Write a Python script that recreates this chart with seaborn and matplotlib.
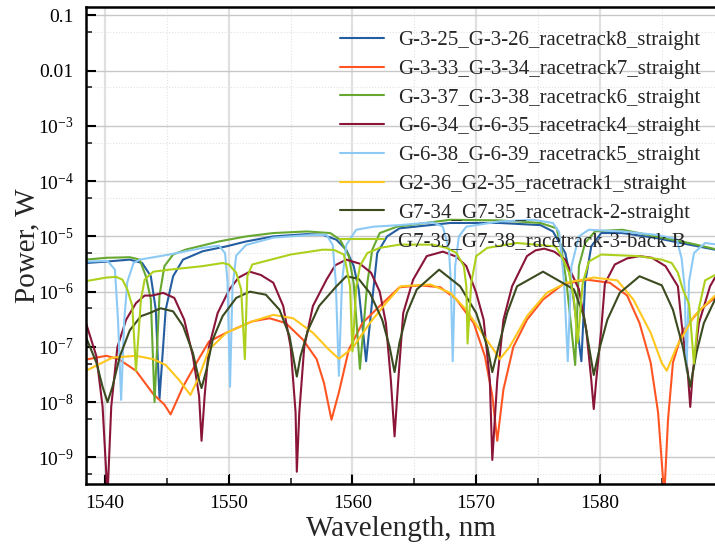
import numpy as np
import pandas as pd
import matplotlib
matplotlib.use("Agg")
import matplotlib.pyplot as plt
import matplotlib.ticker as mticker
import seaborn as sns

# -----------------------------------------------------------------------------
# data (wavelength in nm, power in W)
# -----------------------------------------------------------------------------
labels = ["G-3-25_G-3-26_racetrack8_straight",
          "G-3-33_G-3-34_racetrack7_straight",
          "G-3-37_G-3-38_racetrack6_straight",
          "G-6-34_G-6-35_racetrack4_straight",
          "G-6-38_G-6-39_racetrack5_straight",
          "G2-36_G2-35_racetrack1_straight",
          "G7-34_G7-35_racetrack-2-straight",
          "G7-39_G7-38_racetrack-3-back B"]
colors = ["#245ea0", "#ff5522", "#66a830", "#8a1538",
          "#8ccaf5", "#ffc61e", "#3b4a1f", "#acd01c"]

wl_r8 = [1538.46, 1540.1, 1542.0, 1543.0, 1543.7, 1544.1, 1544.4, 1544.9, 1545.5, 1546.3,
         1547.9, 1549.8, 1551.4, 1553.6, 1556.3, 1557.6, 1558.7, 1559.5, 1560.1, 1560.5,
         1561.1, 1561.6, 1562.0, 1562.8, 1563.8, 1567.9, 1571.9, 1575.2, 1576.2, 1577.2,
         1577.7, 1578.5, 1578.8, 1579.3, 1580.1, 1581.8, 1584.5, 1587.2, 1589.3]
p_r8 = [3.3e-6, 3.5e-6, 3.8e-6, 3.3e-6, 1.9e-6, 4.7e-7, 1.15e-8, 4.7e-7, 1.9e-6, 3.8e-6,
        5.4e-6, 6.6e-6, 8.1e-6, 1.0e-5, 1.1e-5, 1.07e-5, 8.7e-6, 5.7e-6, 2.9e-6, 1.1e-6,
        5.5e-8, 7.2e-7, 5.0e-6, 1.0e-5, 1.4e-5, 1.75e-5, 1.75e-5, 1.6e-5, 1.23e-5, 5.0e-6,
        1.45e-6, 5.5e-8, 1.45e-6, 6.6e-6, 1.15e-5, 1.15e-5, 9.4e-6, 7.1e-6, 5.75e-6]

wl_r7 = [1538.46, 1540.1, 1541.1, 1542.5, 1543.9, 1544.8, 1545.3, 1546.3, 1547.4, 1548.4,
         1550.0, 1551.9, 1553.3, 1554.6, 1556.0, 1557.1, 1557.7, 1558.3, 1558.9, 1559.7,
         1560.8, 1562.2, 1563.8, 1565.5, 1567.1, 1568.4, 1569.8, 1570.7, 1571.3, 1571.7,
         1572.2, 1573.0, 1574.1, 1575.4, 1577.0, 1578.9, 1580.8, 1582.2, 1583.2, 1584.1,
         1584.7, 1585.2, 1585.5, 1585.9, 1586.7, 1588.1, 1589.3]
p_r7 = [5.9e-8, 6.9e-8, 6.0e-8, 3.7e-8, 1.4e-8, 9.0e-9, 6.0e-9, 1.9e-8, 5.2e-8, 1.25e-7,
        1.9e-7, 2.9e-7, 3.3e-7, 2.7e-7, 1.35e-7, 6.0e-8, 2.2e-8, 4.8e-9, 1.5e-8, 8.9e-8,
        2.7e-7, 5.5e-7, 1.2e-6, 1.3e-6, 1.2e-6, 7.2e-7, 2.7e-7, 6.8e-8, 1.3e-8, 2.0e-9,
        1.7e-8, 1.0e-7, 3.1e-7, 7.2e-7, 1.35e-6, 1.65e-6, 1.45e-6, 8.5e-7, 2.7e-7, 5.2e-8,
        6.5e-9, 2.0e-10, 4.7e-9, 5.2e-8, 2.0e-7, 4.7e-7, 7.8e-7]

wl_r6 = [1538.46, 1540.1, 1542.0, 1542.8, 1543.3, 1543.7, 1544.0, 1544.4, 1544.8, 1545.5,
         1546.5, 1549.2, 1551.4, 1553.6, 1556.3, 1558.2, 1559.0, 1559.7, 1560.1, 1560.6,
         1561.2, 1561.6, 1562.2, 1563.6, 1567.9, 1571.9, 1575.2, 1576.5, 1576.9, 1577.3,
         1578.0, 1578.3, 1578.8, 1579.6, 1581.8, 1584.5, 1587.2, 1589.3]
p_r6 = [3.8e-6, 4.1e-6, 4.2e-6, 3.8e-6, 1.9e-6, 7.2e-7, 1.0e-8, 8.5e-7, 2.9e-6, 4.7e-6,
        5.75e-6, 8.1e-6, 1.0e-5, 1.15e-5, 1.23e-5, 1.15e-5, 8.7e-6, 4.4e-6, 1.4e-6, 4.0e-8,
        1.45e-6, 5.75e-6, 1.15e-5, 1.5e-5, 2.0e-5, 1.95e-5, 1.75e-5, 1.4e-5, 5.75e-6, 1.45e-6,
        4.7e-8, 2.9e-6, 7.6e-6, 1.23e-5, 1.32e-5, 1.0e-5, 7.6e-6, 5.9e-6]

wl_r4 = [1538.46, 1539.3, 1539.8, 1540.2, 1540.5, 1541.0, 1541.7, 1542.5, 1543.2, 1543.8,
         1544.7, 1545.6, 1546.4, 1547.1, 1547.6, 1547.8, 1548.05, 1548.4, 1549.1, 1550.05,
         1550.8, 1551.7, 1552.6, 1553.6, 1554.4, 1555.0, 1555.4, 1555.5, 1555.7, 1556.1,
         1556.8, 1557.9, 1558.6, 1559.5, 1560.6, 1561.5, 1562.2, 1562.7, 1563.1, 1563.4,
         1563.7, 1564.1, 1564.9, 1566.0, 1567.3, 1568.4, 1569.2, 1570.0, 1570.6, 1571.1,
         1571.3, 1571.7, 1572.2, 1572.9, 1574.1, 1574.8, 1575.5, 1576.3, 1577.2, 1578.3,
         1578.9, 1579.3, 1579.5, 1579.7, 1580.1, 1580.4, 1581.2, 1582.2, 1583.2, 1584.2,
         1585.3, 1586.3, 1586.6, 1587.1, 1587.3, 1587.5, 1588.0, 1588.9, 1589.3]
p_r4 = [2.7e-7, 6.8e-8, 8.3e-9, 2.0e-10, 8.3e-9, 1.0e-7, 3.1e-7, 6.2e-7, 8.5e-7, 8.5e-7,
        9.5e-7, 7.7e-7, 3.1e-7, 6.8e-8, 1.3e-8, 2.0e-9, 1.3e-8, 1.0e-7, 4.1e-7, 1.1e-6,
        1.8e-6, 2.3e-6, 2.0e-6, 1.45e-6, 5.5e-7, 1.0e-7, 6.5e-9, 5.5e-10, 6.5e-9, 1.0e-7,
        5.5e-7, 1.65e-6, 3.0e-6, 3.8e-6, 3.2e-6, 2.2e-6, 1.0e-6, 2.7e-7, 2.5e-8, 2.4e-9,
        2.5e-8, 4.1e-7, 1.65e-6, 4.4e-6, 5.3e-6, 4.3e-6, 2.9e-6, 9.5e-7, 3.1e-7, 2.5e-8,
        9.0e-10, 2.5e-8, 3.1e-7, 1.25e-6, 4.4e-6, 5.6e-6, 6.0e-6, 5.3e-6, 3.8e-6, 1.1e-6,
        2.0e-7, 2.5e-8, 7.5e-9, 2.5e-8, 2.0e-7, 1.4e-6, 3.1e-6, 4.0e-6, 4.4e-6, 4.1e-6,
        2.9e-6, 1.25e-6, 2.7e-7, 3.4e-8, 8.2e-9, 3.4e-8, 2.7e-7, 1.25e-6, 1.8e-6]

wl_r5 = [1538.46, 1540.2, 1540.8, 1541.05, 1541.3, 1541.55, 1541.8, 1542.3, 1542.8, 1545.2,
         1547.9, 1549.2, 1549.7, 1549.9, 1550.1, 1550.3, 1550.6, 1551.4, 1553.6, 1556.3,
         1557.9, 1558.4, 1558.65, 1558.9, 1559.15, 1559.5, 1560.3, 1561.7, 1563.8, 1566.5,
         1567.3, 1567.8, 1567.95, 1568.1, 1568.3, 1568.6, 1569.2, 1571.9, 1574.6, 1576.2,
         1576.7, 1577.1, 1577.4, 1577.7, 1578.3, 1579.1, 1581.8, 1584.5, 1586.2, 1586.6,
         1586.85, 1587.0, 1587.2, 1587.6, 1588.5, 1589.3]
p_r5 = [3.5e-6, 3.6e-6, 2.5e-6, 3.0e-7, 1.1e-8, 3.0e-7, 1.5e-6, 3.3e-6, 3.8e-6, 4.7e-6,
        6.2e-6, 6.8e-6, 5.0e-6, 1.5e-6, 1.9e-8, 1.2e-6, 4.5e-6, 7.0e-6, 9.5e-6, 1.05e-5,
        1.07e-5, 7.0e-6, 1.5e-6, 3.0e-8, 1.5e-6, 7.0e-6, 1.32e-5, 1.5e-5, 1.6e-5, 1.8e-5,
        1.5e-5, 5.75e-6, 1.45e-6, 5.5e-8, 2.9e-6, 1.0e-5, 1.5e-5, 1.87e-5, 2.0e-5, 1.75e-5,
        1.2e-5, 1.5e-6, 5.5e-8, 2.9e-6, 1.0e-5, 1.32e-5, 1.23e-5, 1.07e-5, 9.0e-6, 4.0e-6,
        1.2e-6, 3.7e-8, 1.5e-6, 5.0e-6, 7.6e-6, 7.2e-6]

wl_r1 = [1538.46, 1540.6, 1542.5, 1543.9, 1544.9, 1546.0, 1546.9, 1547.6, 1548.4, 1549.8,
         1551.9, 1553.6, 1555.2, 1556.8, 1558.1, 1558.9, 1560.0, 1561.4, 1562.7, 1563.9,
         1566.3, 1567.9, 1569.2, 1570.6, 1571.5, 1571.9, 1572.7, 1574.1, 1575.7, 1577.3,
         1579.5, 1581.4, 1582.7, 1584.1, 1585.0, 1585.4, 1586.2, 1587.6, 1589.3]
p_r1 = [3.7e-8, 6.4e-8, 6.9e-8, 6.0e-8, 4.7e-8, 2.5e-8, 1.35e-8, 2.9e-8, 8.9e-8, 1.8e-7,
        2.9e-7, 3.8e-7, 3.3e-7, 1.8e-7, 8.9e-8, 6.1e-8, 9.5e-8, 2.7e-7, 6.2e-7, 1.25e-6,
        1.35e-6, 9.5e-7, 4.7e-7, 1.6e-7, 8.3e-8, 6.0e-8, 1.0e-7, 3.6e-7, 9.5e-7, 1.45e-6,
        1.8e-6, 1.6e-6, 7.2e-7, 1.8e-7, 5.1e-8, 3.7e-8, 1.0e-7, 3.6e-7, 8.5e-7]

wl_r2 = [1538.46, 1539.3, 1539.8, 1540.2, 1540.6, 1541.2, 1542.0, 1542.9, 1543.6, 1544.5,
         1545.5, 1546.3, 1547.1, 1547.6, 1547.8, 1548.2, 1548.7, 1549.5, 1550.6, 1551.7,
         1553.0, 1554.1, 1554.9, 1555.3, 1555.5, 1555.8, 1556.4, 1557.3, 1558.7, 1559.5,
         1560.5, 1561.4, 1562.4, 1563.0, 1563.4, 1563.8, 1564.4, 1565.2, 1567.0, 1568.7,
         1570.0, 1570.9, 1571.3, 1571.8, 1572.5, 1573.3, 1575.4, 1577.9, 1578.7, 1579.2,
         1579.5, 1580.0, 1580.6, 1581.6, 1583.2, 1585.0, 1585.9, 1586.7, 1587.3, 1587.8,
         1588.4, 1589.3]
p_r2 = [1.5e-7, 5.2e-8, 1.9e-8, 1.0e-8, 1.9e-8, 6.8e-8, 2.0e-7, 3.6e-7, 4.1e-7, 5.0e-7,
        4.4e-7, 2.4e-7, 7.8e-8, 2.5e-8, 1.8e-8, 3.9e-8, 1.35e-7, 3.6e-7, 7.7e-7, 1.0e-6,
        8.8e-7, 4.7e-7, 1.6e-7, 5.1e-8, 2.9e-8, 6.8e-8, 2.0e-7, 5.5e-7, 1.25e-6, 1.9e-6,
        1.7e-6, 9.5e-7, 3.1e-7, 1.0e-7, 3.5e-8, 1.2e-7, 4.1e-7, 1.1e-6, 2.5e-6, 1.25e-6,
        4.1e-7, 1.0e-7, 3.5e-8, 1.0e-7, 4.1e-7, 1.25e-6, 2.3e-6, 1.1e-6, 3.6e-7, 7.8e-8,
        3.1e-8, 1.0e-7, 3.1e-7, 9.5e-7, 1.9e-6, 1.3e-6, 4.7e-7, 1.0e-7, 1.9e-8, 7.8e-8,
        2.7e-7, 7.2e-7]

wl_r3 = [1538.46, 1540.1, 1540.9, 1541.4, 1541.8, 1542.2, 1542.5, 1542.9, 1543.2, 1543.9,
         1545.2, 1547.9, 1549.5, 1550.0, 1550.6, 1551.0, 1551.3, 1551.5, 1551.9, 1552.8,
         1555.0, 1557.6, 1558.5, 1559.3, 1559.5, 1559.8, 1560.0, 1560.3, 1560.6, 1561.2,
         1562.2, 1563.8, 1566.5, 1567.6, 1568.4, 1569.0, 1569.2, 1569.3, 1569.6, 1570.0,
         1570.9, 1573.3, 1576.4, 1576.9, 1577.5, 1577.9, 1578.2, 1578.6, 1579.1, 1580.1,
         1583.1, 1585.0, 1585.8, 1586.3, 1586.7, 1587.2, 1587.6, 1588.0, 1588.5, 1589.3]
p_r3 = [1.55e-6, 1.8e-6, 1.85e-6, 1.65e-6, 1.1e-6, 5.5e-7, 3.7e-8, 7.2e-7, 1.65e-6, 2.3e-6,
        2.5e-6, 2.9e-6, 3.3e-6, 3.1e-6, 2.2e-6, 1.1e-6, 6.0e-8, 1.9e-6, 3.1e-6, 3.5e-6,
        4.7e-6, 5.75e-6, 5.7e-6, 4.7e-6, 2.9e-6, 1.25e-6, 8.3e-8, 1.2e-6, 2.9e-6, 5.0e-6,
        6.2e-6, 7.1e-6, 7.1e-6, 6.2e-6, 5.0e-6, 2.9e-6, 1.25e-6, 1.15e-7, 1.45e-6, 4.4e-6,
        6.2e-6, 7.6e-6, 6.6e-6, 4.4e-6, 2.2e-6, 7.2e-7, 1.2e-7, 1.4e-6, 3.5e-6, 4.7e-6,
        4.4e-6, 3.8e-6, 3.3e-6, 2.2e-6, 1.1e-6, 6.0e-7, 5.0e-8, 5.0e-7, 1.6e-6, 2.0e-6]

all_wl = [wl_r8, wl_r7, wl_r6, wl_r4, wl_r5, wl_r1, wl_r2, wl_r3]
all_p = [p_r8, p_r7, p_r6, p_r4, p_r5, p_r1, p_r2, p_r3]

df = pd.concat([pd.DataFrame({"wl": w, "power": p, "sample": name})
                for name, w, p in zip(labels, all_wl, all_p)], ignore_index=True)

# -----------------------------------------------------------------------------
# style
# -----------------------------------------------------------------------------
sns.set_theme(style="ticks")
plt.rcParams["font.family"] = ["Liberation Serif", "DejaVu Serif"]
plt.rcParams["mathtext.fontset"] = "custom"
plt.rcParams["mathtext.rm"] = "Liberation Serif"
plt.rcParams["mathtext.it"] = "Liberation Serif:italic"

fig = plt.figure(figsize=(7.15, 5.47), dpi=100)
ax = fig.add_axes([86 / 715, 63 / 547, 629 / 715, 477 / 547])
ax.set_yscale("log")

sns.lineplot(data=df, x="wl", y="power", hue="sample", hue_order=labels,
             palette=colors, estimator=None, sort=False, lw=1.5, ax=ax)

ax.set_xlim(1538.46, 1589.3)
ax.set_ylim(3.3e-10, 0.142)

ax.xaxis.set_major_locator(mticker.MultipleLocator(10))
ax.xaxis.set_minor_locator(mticker.MultipleLocator(5))
ax.yaxis.set_major_locator(mticker.FixedLocator(10.0 ** np.arange(-9, 0)))
ax.yaxis.set_minor_locator(mticker.FixedLocator(5 * 10.0 ** np.arange(-10, -1)))
ax.yaxis.set_minor_formatter(mticker.NullFormatter())

def yfmt(v, pos):
    e = int(round(np.log10(v)))
    if e == -1:
        return "0.1"
    if e == -2:
        return "0.01"
    return r"$10^{%d}$" % e

ax.yaxis.set_major_formatter(mticker.FuncFormatter(yfmt))

ax.set_axisbelow(True)
ax.xaxis.grid(True, which="major", color="#e0e0e0", lw=1.6)
ax.yaxis.grid(True, which="major", color="#c8c8c8", lw=1.0)
ax.grid(True, which="minor", color="#e2e2e2", lw=0.8, ls=":")

for s in ["left", "bottom", "top"]:
    ax.spines[s].set_linewidth(1.8)
    ax.spines[s].set_color("black")
ax.spines["right"].set_visible(False)

ax.tick_params(which="major", direction="in", length=7.5, width=1.5,
               labelsize=14, colors="black", top=False, right=False)
ax.tick_params(which="minor", direction="in", length=4, width=1.2,
               top=False, right=False)
ax.tick_params(axis="y", which="major", pad=9)
ax.tick_params(axis="x", which="major", pad=8)

ax.set_xlabel("Wavelength, nm", fontsize=21, labelpad=3)
ax.set_ylabel("Power, W", fontsize=21, labelpad=-2)

handles, lbls = ax.get_legend_handles_labels()
ax.legend(handles, lbls, loc="upper right", bbox_to_anchor=(0.99, 0.968),
          frameon=False, fontsize=15, handlelength=2.1, handletextpad=0.65,
          labelspacing=0.44, borderaxespad=0)

fig.savefig("out.png", dpi=100)
